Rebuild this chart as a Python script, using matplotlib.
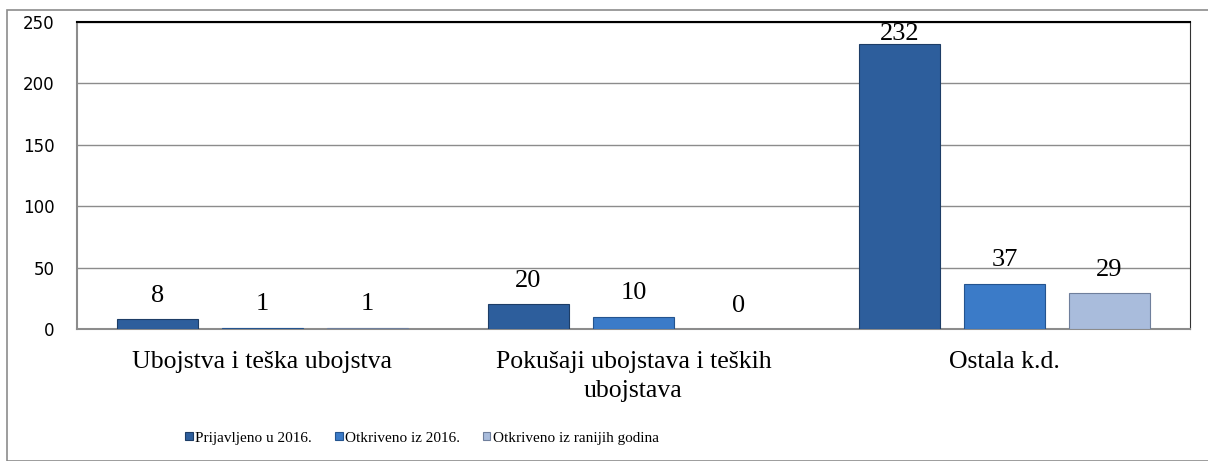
import numpy as np
import matplotlib
matplotlib.use("Agg")
import matplotlib.pyplot as plt
from matplotlib.patches import Rectangle

categories = ["Ubojstva i teška ubojstva", "Pokušaji ubojstava i teških\nubojstava", "Ostala k.d."]
series = ["Prijavljeno u 2016.", "Otkriveno iz 2016.", "Otkriveno iz ranijih godina"]
prijavljeno = [8, 20, 232]
otkriveno = [1, 10, 37]
ranije = [1, 0, 29]
yticks = [0, 50, 100, 150, 200, 250]

colors = ["#2d5e9c", "#3b7bc8", "#a9bcdc"]
edges = ["#1d3d66", "#24548f", "#6f7f9c"]

fig = plt.figure(figsize=(12.08, 4.61), dpi=100)
# outer chart border
fig.patches.append(Rectangle((7 / 1208, 0), 1.0, 1 - 10 / 461, transform=fig.transFigure,
                             fill=False, edgecolor="#8c8c8c", linewidth=1.2))

ax = fig.add_axes([77 / 1208, 1 - 329 / 461, 1113 / 1208, 307 / 461])
x = np.arange(len(categories))
width = 0.216
step = 0.283
ymax = 250

for i, (vals, name) in enumerate(zip([prijavljeno, otkriveno, ranije], series)):
    bars = ax.bar(x + (i - 1) * step, vals, width, color=colors[i], edgecolor=edges[i],
                  linewidth=0.8, label=name, zorder=3)
    for b, v in zip(bars, vals):
        cx = b.get_x() + b.get_width() / 2
        # keep the label inside the plot area like the original does
        if v + 31 > ymax:
            ax.text(cx, ymax - 1, str(v), ha="center", va="top",
                    family="Liberation Serif", fontsize=19, zorder=4)
        else:
            ax.annotate(str(v), (cx, v), xytext=(0, 9), textcoords="offset points",
                        ha="center", va="bottom", family="Liberation Serif", fontsize=19)

ax.set_xlim(-0.5, 2.5)
ax.set_ylim(0, ymax)
ax.set_yticks(yticks)
ax.set_yticklabels([str(t) for t in yticks], family="DejaVu Sans", fontsize=12)
ax.set_xticks(x)
ax.set_xticklabels(categories, family="Liberation Serif", fontsize=18.5, linespacing=1.4)
ax.tick_params(axis="both", length=0)
ax.tick_params(axis="y", pad=16)
ax.tick_params(axis="x", pad=16)
ax.grid(axis="y", color="#8c8c8c", linewidth=1, zorder=0)
ax.spines["left"].set_color("#8c8c8c")
ax.spines["bottom"].set_color("#8c8c8c")
ax.spines["left"].set_linewidth(1.5)
ax.spines["bottom"].set_linewidth(1.5)
ax.spines["top"].set_color("black")
ax.spines["top"].set_linewidth(1.5)
ax.spines["right"].set_color("#333333")

fig.legend(loc="center", bbox_to_anchor=(422 / 1208, 1 - 438 / 461), ncol=3, frameon=False,
           prop={"family": "Liberation Serif", "size": 11}, handlelength=0.5, handleheight=0.5,
           handletextpad=0.15, columnspacing=1.5)

fig.savefig("out.png", dpi=100)
